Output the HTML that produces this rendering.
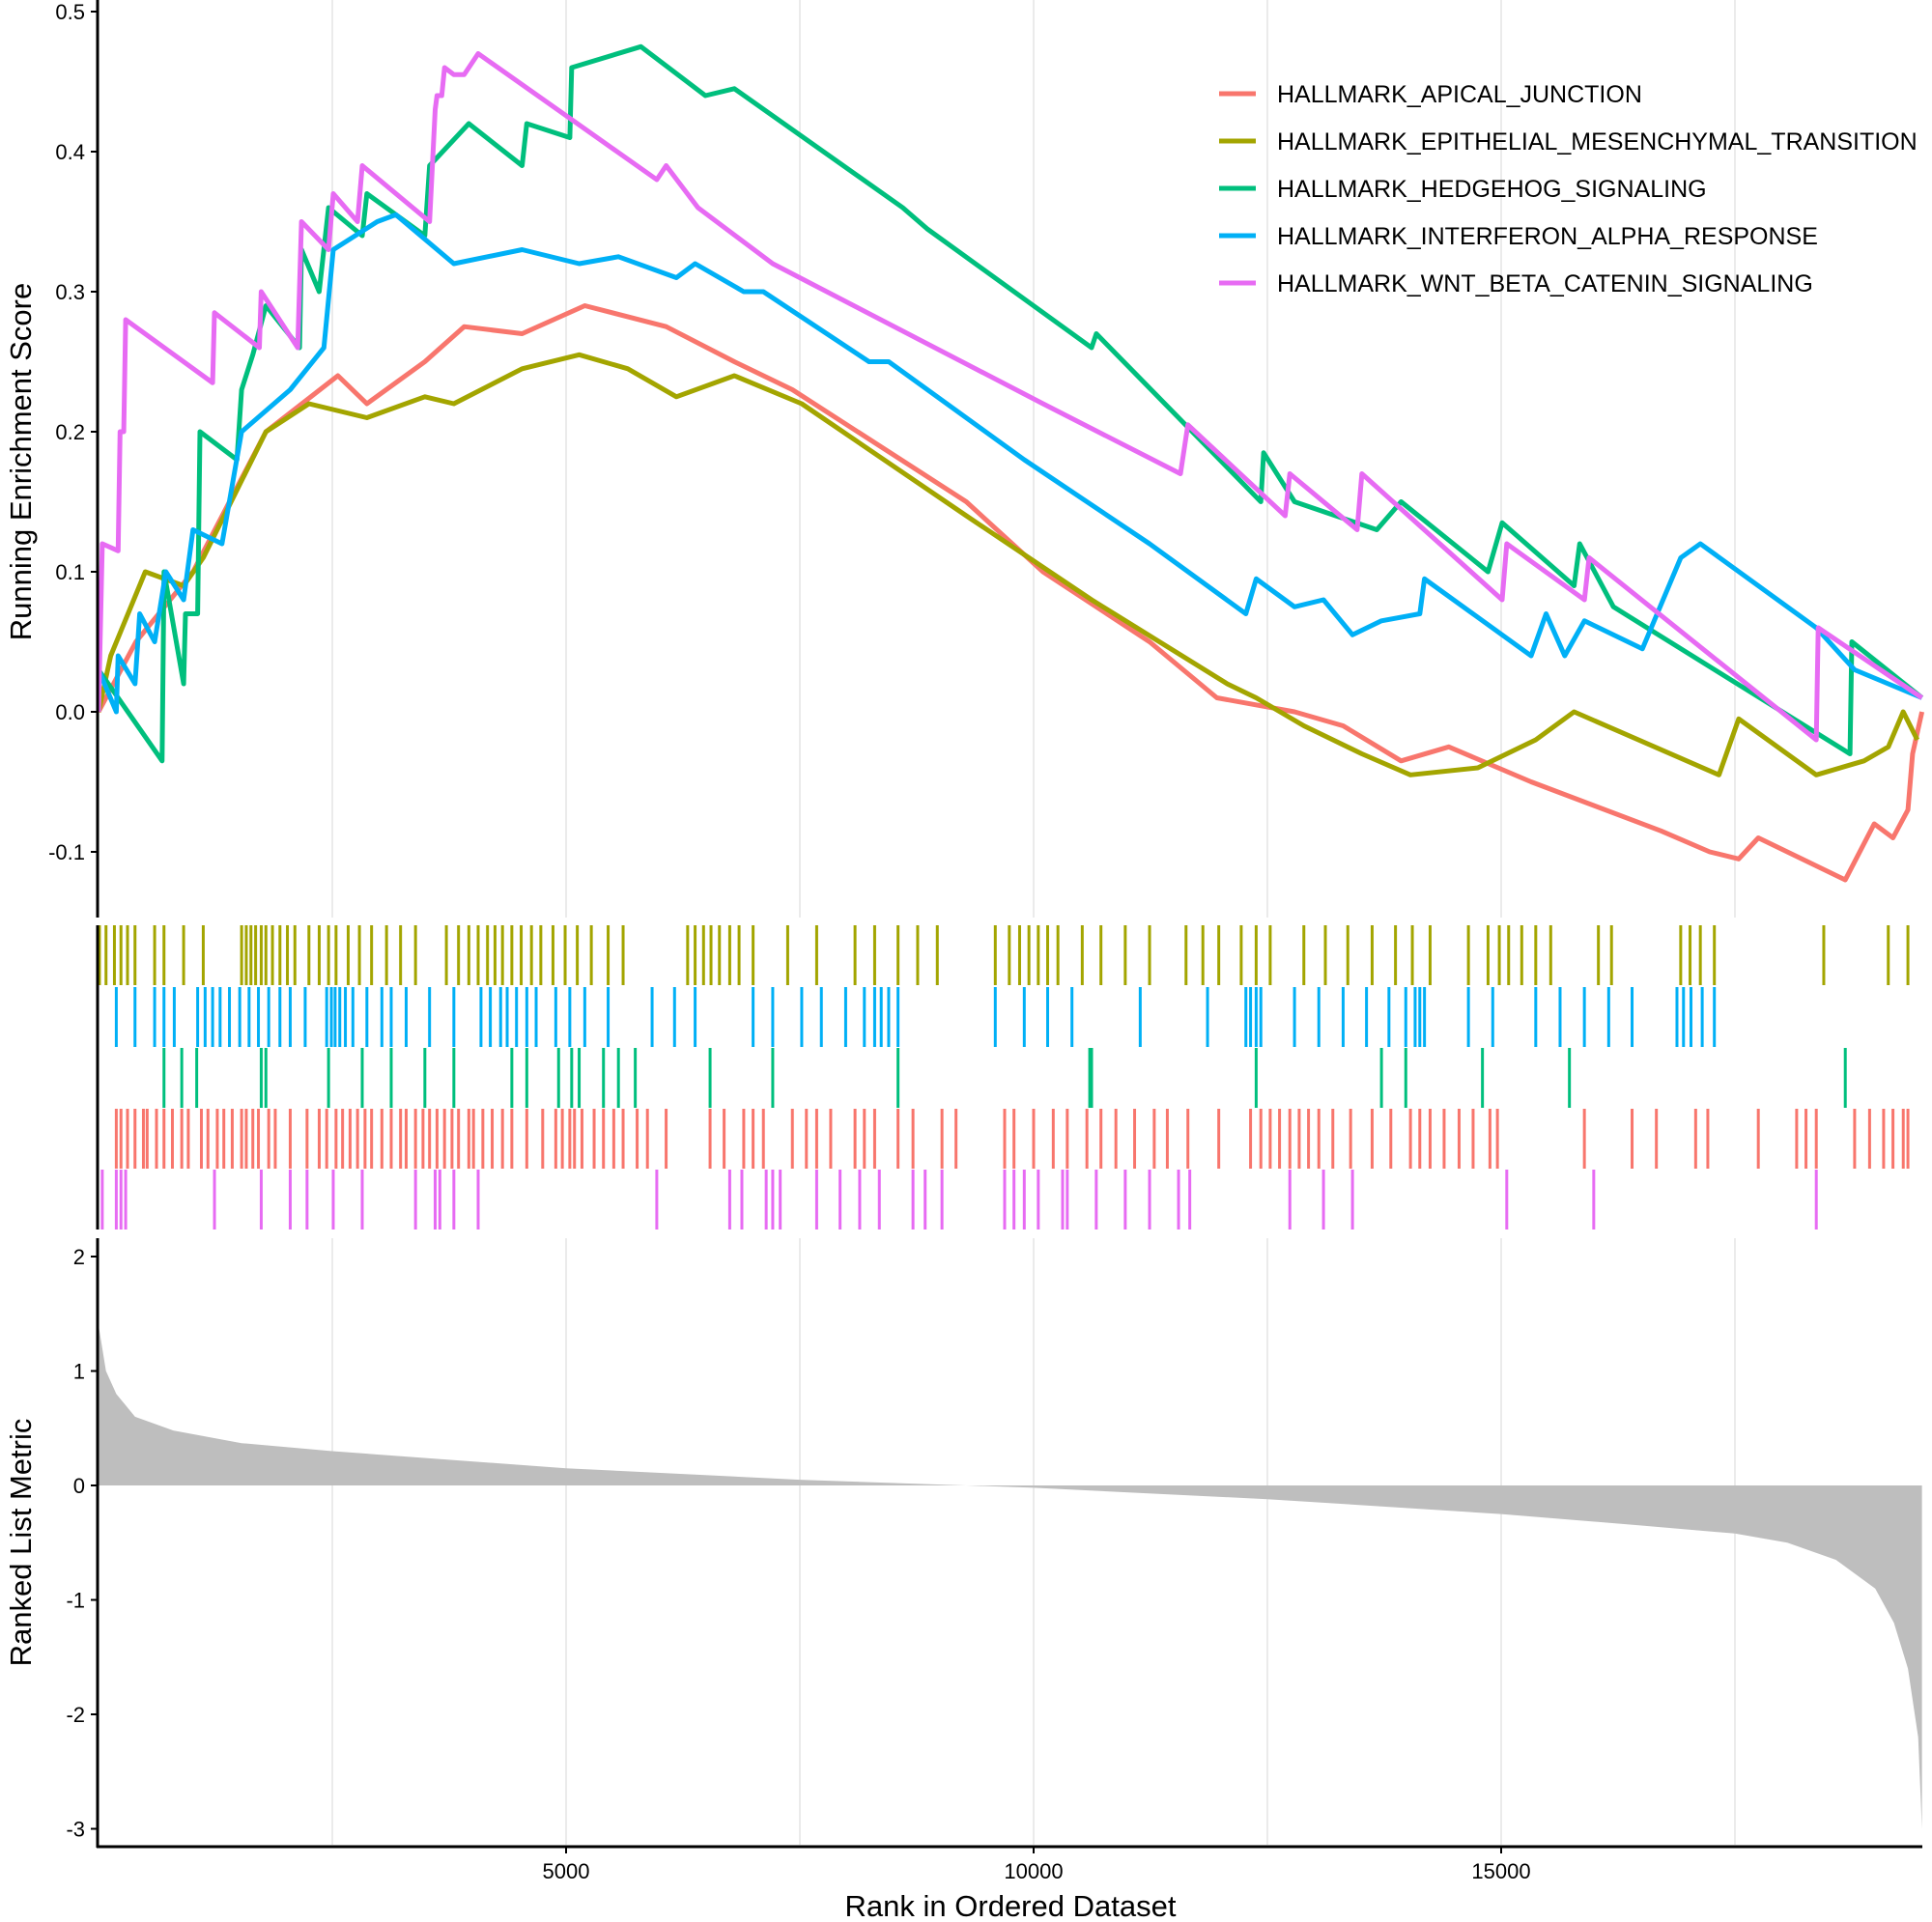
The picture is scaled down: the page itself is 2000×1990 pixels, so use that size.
<!DOCTYPE html>
<html><head><meta charset="utf-8"><style>
body{margin:0;background:#fff}
svg{display:block;font-family:"Liberation Sans",sans-serif}
</style></head><body>
<svg id="chart" width="2000" height="1990" viewBox="0 0 2000 1990" xmlns="http://www.w3.org/2000/svg"></svg>
<script>
const seriesNames=["HALLMARK_APICAL_JUNCTION","HALLMARK_EPITHELIAL_MESENCHYMAL_TRANSITION","HALLMARK_HEDGEHOG_SIGNALING","HALLMARK_INTERFERON_ALPHA_RESPONSE","HALLMARK_WNT_BETA_CATENIN_SIGNALING"];
const seriesColors=["#F8766D","#A3A500","#00BF7D","#00B0F6","#E76BF3"];
const xTicks=[5000,10000,15000];
const esTicks=[0.5,0.4,0.3,0.2,0.1,0.0,-0.1];
const esTickLabels=["0.5","0.4","0.3","0.2","0.1","0.0","-0.1"];
const metricTicks=[2,1,0,-1,-2,-3];
// running ES (ranks in thousands)
const apicalRank=[0,0.4,1.01,1.79,2.56,2.87,3.49,3.91,4.53,5.2,6.07,6.8,7.42,9.28,10.1,11.24,11.96,12.79,13.31,13.93,14.44,15.32,16.71,17.23,17.54,17.75,18.68,18.99,19.19,19.35,19.4,19.5];
const apicalES=[0,0.05,0.1,0.2,0.24,0.22,0.25,0.275,0.27,0.29,0.275,0.25,0.23,0.15,0.1,0.05,0.01,0.0,-0.01,-0.035,-0.025,-0.05,-0.085,-0.1,-0.105,-0.09,-0.12,-0.08,-0.09,-0.07,-0.03,0.0];
const emtRank=[0,0.13,0.5,0.91,1.12,1.79,2.25,2.87,3.49,3.8,4.53,5.14,5.66,6.18,6.8,7.52,9.28,10.62,12.07,12.38,12.89,13.51,14.03,14.75,15.37,15.78,17.33,17.54,18.37,18.88,19.14,19.3,19.45];
const emtES=[0,0.04,0.1,0.09,0.11,0.2,0.22,0.21,0.225,0.22,0.245,0.255,0.245,0.225,0.24,0.22,0.14,0.08,0.02,0.01,-0.01,-0.03,-0.045,-0.04,-0.02,0.0,-0.045,-0.005,-0.045,-0.035,-0.025,0.0,-0.02];
const hhRank=[0,0.68,0.7,0.91,0.93,1.06,1.085,1.48,1.53,1.65,1.79,2.15,2.17,2.36,2.46,2.82,2.87,3.49,3.54,3.96,4.53,4.58,5.04,5.06,5.8,6.49,6.8,8.6,8.86,10.62,10.67,12.43,12.46,12.79,13.67,13.93,14.86,15.01,15.78,15.84,16.2,18.73,18.75,19.5];
const hhES=[0.03,-0.035,0.1,0.02,0.07,0.07,0.2,0.18,0.23,0.255,0.29,0.26,0.33,0.3,0.36,0.34,0.37,0.34,0.39,0.42,0.39,0.42,0.41,0.46,0.475,0.44,0.445,0.36,0.345,0.26,0.27,0.15,0.185,0.15,0.13,0.15,0.10,0.135,0.09,0.12,0.075,-0.03,0.05,0.01];
const ifnRank=[0,0.19,0.21,0.39,0.44,0.6,0.72,0.91,1.01,1.32,1.53,2.05,2.41,2.51,2.98,3.18,3.8,4.53,5.14,5.56,6.18,6.38,6.9,7.11,8.24,8.45,9.9,11.24,12.27,12.38,12.79,13.1,13.41,13.72,14.13,14.18,15.32,15.48,15.68,15.89,16.51,16.92,17.13,18.37,18.78,19.5];
const ifnES=[0.03,0,0.04,0.02,0.07,0.05,0.1,0.08,0.13,0.12,0.2,0.23,0.26,0.33,0.35,0.355,0.32,0.33,0.32,0.325,0.31,0.32,0.3,0.3,0.25,0.25,0.18,0.12,0.07,0.095,0.075,0.08,0.055,0.065,0.07,0.095,0.04,0.07,0.04,0.065,0.045,0.11,0.12,0.06,0.03,0.01];
const wntRank=[0,0.04,0.21,0.23,0.27,0.29,1.22,1.24,1.72,1.74,2.13,2.17,2.46,2.51,2.77,2.82,3.54,3.6,3.62,3.67,3.7,3.8,3.91,4.06,5.97,6.07,6.41,7.21,10.1,11.57,11.65,12.69,12.74,13.46,13.51,15.01,15.06,15.89,15.94,18.37,18.39,19.5];
const wntES=[0,0.12,0.115,0.2,0.2,0.28,0.235,0.285,0.26,0.3,0.26,0.35,0.33,0.37,0.35,0.39,0.35,0.43,0.44,0.44,0.46,0.455,0.455,0.47,0.38,0.39,0.36,0.32,0.22,0.17,0.205,0.14,0.17,0.13,0.17,0.08,0.12,0.08,0.11,-0.02,0.06,0.01];
// gene hits (ranks in thousands)
const emtHits=[0.01,0.08,0.17,0.24,0.31,0.39,0.6,0.7,0.91,1.12,1.53,1.58,1.63,1.68,1.74,1.79,1.86,1.94,2.02,2.10,2.25,2.36,2.46,2.54,2.67,2.79,2.92,3.08,3.23,3.39,3.72,3.85,3.96,4.06,4.16,4.24,4.32,4.42,4.52,4.63,4.73,4.86,4.99,5.12,5.27,5.45,5.61,6.30,6.38,6.47,6.55,6.64,6.75,6.85,7.00,7.37,7.68,8.09,8.30,8.55,8.76,8.97,9.59,9.74,9.85,9.95,10.05,10.15,10.26,10.52,10.72,10.98,11.24,11.63,11.81,11.98,12.22,12.38,12.53,12.89,13.12,13.36,13.62,13.87,14.05,14.24,14.65,14.86,14.98,15.08,15.22,15.37,15.53,16.04,16.18,16.92,17.02,17.13,17.28,18.45,19.14,19.35];
const ifnHits=[0.19,0.39,0.6,0.7,0.81,1.06,1.14,1.22,1.30,1.40,1.51,1.61,1.71,1.82,1.94,2.05,2.21,2.44,2.49,2.53,2.58,2.64,2.72,2.87,3.03,3.13,3.29,3.54,3.80,4.09,4.19,4.30,4.37,4.47,4.58,4.68,4.89,5.04,5.20,5.45,5.92,6.16,6.38,7.00,7.21,7.52,7.73,7.99,8.19,8.30,8.37,8.45,8.55,9.59,9.90,10.15,10.41,11.14,11.86,12.27,12.32,12.38,12.43,12.79,13.05,13.31,13.56,13.80,13.98,14.08,14.13,14.18,14.65,14.91,15.37,15.63,15.89,16.15,16.40,16.88,16.95,17.03,17.15,17.28];
const hhHits=[0.70,0.89,1.05,1.74,1.79,2.46,2.82,3.13,3.49,3.80,4.42,4.58,4.92,5.06,5.14,5.40,5.56,5.74,6.54,7.21,8.55,10.60,10.62,12.38,13.72,13.98,14.80,15.73,18.68];
const apicalHits=[0.19,0.24,0.31,0.39,0.48,0.52,0.62,0.70,0.79,0.89,0.96,1.10,1.17,1.27,1.34,1.43,1.53,1.58,1.65,1.71,1.82,1.89,2.05,2.23,2.36,2.44,2.54,2.61,2.69,2.77,2.85,2.92,3.03,3.13,3.23,3.29,3.39,3.47,3.54,3.62,3.70,3.78,3.85,3.96,4.01,4.11,4.21,4.32,4.42,4.58,4.75,4.89,4.96,5.04,5.09,5.17,5.30,5.40,5.51,5.61,5.76,5.87,6.07,6.54,6.69,6.90,7.00,7.11,7.42,7.57,7.68,7.83,8.09,8.19,8.30,8.55,8.71,9.02,9.17,9.69,9.79,10.0,10.21,10.36,10.57,10.72,10.88,11.08,11.29,11.43,11.65,11.98,12.32,12.43,12.53,12.63,12.74,12.84,12.94,13.05,13.20,13.39,13.62,13.82,14.03,14.13,14.24,14.39,14.55,14.70,14.88,14.96,15.89,16.40,16.66,17.08,17.21,17.75,18.16,18.26,18.37,18.78,18.94,19.09,19.19,19.30,19.35];
const wntHits=[0.04,0.19,0.24,0.29,1.24,1.74,2.05,2.23,2.51,2.82,3.39,3.60,3.65,3.80,4.06,5.97,6.75,6.88,7.14,7.21,7.29,7.68,7.93,8.14,8.35,8.71,8.84,9.02,9.69,9.79,9.90,10.05,10.31,10.36,10.67,10.98,11.24,11.55,11.67,12.74,13.10,13.41,15.06,15.99,18.37];
// ranked list metric
const metricRank=[0,0.08,0.19,0.39,0.8,1.53,2.5,5,7.5,9.28,10,12.5,15,16.5,17.5,18.06,18.58,19.0,19.2,19.35,19.46,19.5];
const metricVal=[1.4,1.0,0.8,0.6,0.48,0.37,0.3,0.15,0.05,0,-0.02,-0.12,-0.25,-0.35,-0.42,-0.5,-0.65,-0.9,-1.2,-1.6,-2.2,-3.0];

const NS="http://www.w3.org/2000/svg";
const svg=document.getElementById('chart');
const X0=102,PXK=96.8;
const xs=r=>X0+r*PXK/1000;
const xk=k=>X0+k*PXK;
const yES=v=>737-v*1450;
const yM=v=>1538-v*118.5;
function mk(tag,attrs,parent){const e=document.createElementNS(NS,tag);for(const k in attrs)e.setAttribute(k,attrs[k]);(parent||svg).appendChild(e);return e;}

[2500,5000,7500,10000,12500,15000,17500].forEach(r=>{
  const g1=mk('line',{x1:xs(r),x2:xs(r),y1:0,y2:950,stroke:'#EBEBEB','stroke-width':2});
  
  
  const g2=mk('line',{x1:xs(r),x2:xs(r),y1:1282,y2:1910,stroke:'#EBEBEB','stroke-width':2});
  
  
});

const esRanks=[apicalRank,emtRank,hhRank,ifnRank,wntRank];
const esVals=[apicalES,emtES,hhES,ifnES,wntES];
const lineNames=['apical-junction-line','emt-line','hedgehog-line','interferon-alpha-line','wnt-beta-catenin-line'];
esRanks.forEach((rk,i)=>{
  const d=rk.map((k,j)=>(j?'L':'M')+xk(k).toFixed(1)+','+yES(esVals[i][j]).toFixed(1)).join('');
  const p=mk('path',{d:d,fill:'none',stroke:seriesColors[i],'stroke-width':5,'stroke-linejoin':'round'});
  
  
});

const hitSets=[emtHits,ifnHits,hhHits,apicalHits,wntHits];
const hitColors=[seriesColors[1],seriesColors[3],seriesColors[2],seriesColors[0],seriesColors[4]];
const rowTop=[958,1022,1085,1148,1211];
const hitNames=['emt-hits','interferon-alpha-hits','hedgehog-hits','apical-junction-hits','wnt-beta-catenin-hits'];
hitSets.forEach((hs,i)=>{
  const g=mk('g',{});
  
  
  hs.forEach(k=>{
    const l=mk('line',{x1:xk(k),x2:xk(k),y1:rowTop[i],y2:rowTop[i]+62,stroke:hitColors[i],'stroke-width':3},g);
    
    
  });
});

let md='M'+xk(metricRank[0])+','+yM(0);
metricRank.forEach((k,j)=>{md+='L'+xk(k).toFixed(1)+','+yM(metricVal[j]).toFixed(1);});
md+='L'+xk(metricRank[metricRank.length-1])+','+yM(0)+'Z';
const area=mk('path',{d:md,fill:'#BEBEBE',stroke:'none'});



[[0,950],[958,1273],[1282,1913]].forEach(([a,b])=>{
  const ax=mk('line',{x1:101,x2:101,y1:a,y2:b,stroke:'#000','stroke-width':3});
  
  
});
const xa=mk('line',{x1:100,x2:1990,y1:1912,y2:1912,stroke:'#000','stroke-width':3});



esTicks.forEach((v,i)=>{
  mk('line',{x1:94,x2:100,y1:yES(v),y2:yES(v),stroke:'#000','stroke-width':2});
  const t=mk('text',{x:88,y:yES(v)+8,'text-anchor':'end','font-size':22,fill:'#000'});
  t.textContent=esTickLabels[i];
  
  
});
metricTicks.forEach(v=>{
  mk('line',{x1:94,x2:100,y1:yM(v),y2:yM(v),stroke:'#000','stroke-width':2});
  const t=mk('text',{x:88,y:yM(v)+8,'text-anchor':'end','font-size':22,fill:'#000'});
  t.textContent=String(v);
  
  
});
xTicks.forEach(v=>{
  mk('line',{x1:xs(v),x2:xs(v),y1:1912,y2:1919,stroke:'#000','stroke-width':2});
  const t=mk('text',{x:xs(v),y:1945,'text-anchor':'middle','font-size':22,fill:'#000'});
  t.textContent=String(v);
  
  
});

const yt1=mk('text',{x:0,y:0,'text-anchor':'middle','font-size':31,fill:'#000',transform:'translate(32,478) rotate(-90)'});
yt1.textContent='Running Enrichment Score';


const yt2=mk('text',{x:0,y:0,'text-anchor':'middle','font-size':31,fill:'#000',transform:'translate(32,1597) rotate(-90)'});
yt2.textContent='Ranked List Metric';


const xt=mk('text',{x:1046,y:1984,'text-anchor':'middle','font-size':31,fill:'#000'});
xt.textContent='Rank in Ordered Dataset';



seriesNames.forEach((n,i)=>{
  const y=97+i*49;
  const g=mk('g',{});
  
  
  mk('line',{x1:1262,x2:1300,y1:y,y2:y,stroke:seriesColors[i],'stroke-width':5},g);
  const t=mk('text',{x:1322,y:y+9,'font-size':25,fill:'#000'},g);
  t.textContent=n;
});
</script>
</body></html>
